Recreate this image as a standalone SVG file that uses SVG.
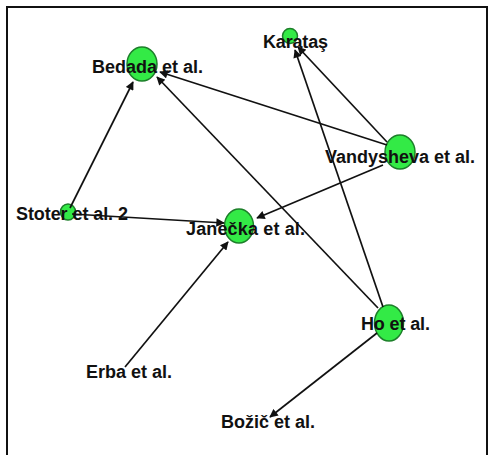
<svg xmlns="http://www.w3.org/2000/svg" width="491" height="455" viewBox="0 0 491 455">
<style>
.node{fill:#33ea46;stroke:#1d7f2a;stroke-width:1.5}
.lbl{font-family:"Liberation Sans",Arial,sans-serif;font-weight:bold;font-size:18px;fill:#111}
.edge{stroke:#111;stroke-width:1.7;fill:none;marker-end:url(#arr)}
</style>
<defs>
<marker id="arr" viewBox="0 0 10 10" refX="9" refY="5" markerWidth="5.5" markerHeight="5" orient="auto" markerUnits="strokeWidth">
<path d="M0,0 L10,5 L0,10 z" fill="#111"/>
</marker>
</defs>
<rect x="0" y="0" width="491" height="455" fill="#fff"/>
<path d="M7,460 L7,7 L487,7 L487,460" fill="none" stroke="#111" stroke-width="2"/>
<g id="nodes-circles">
<g id="n-bedada-c"><ellipse class="node" cx="142" cy="64" rx="15" ry="17"/></g>
<g id="n-karatas-c"><ellipse class="node" cx="290" cy="36" rx="7.5" ry="7.5"/></g>
<g id="n-vandysheva-c"><ellipse class="node" cx="400" cy="152" rx="15" ry="17"/></g>
<g id="n-stoter-c"><ellipse class="node" cx="68" cy="212" rx="7.5" ry="8"/></g>
<g id="n-janecka-c"><ellipse class="node" cx="239" cy="226" rx="14.5" ry="17"/></g>
<g id="n-ho-c"><ellipse class="node" cx="389" cy="323" rx="14.5" ry="18"/></g>
</g>
<g id="connectors">
<line class="edge" x1="70" y1="208" x2="133" y2="82"/>
<line class="edge" x1="387" y1="145" x2="160" y2="72"/>
<line class="edge" x1="378" y1="308" x2="157" y2="77"/>
<line class="edge" x1="387" y1="142" x2="298" y2="47"/>
<line class="edge" x1="383" y1="307" x2="295" y2="50"/>
<line class="edge" x1="383" y1="165" x2="257" y2="218"/>
<line class="edge" x1="72" y1="214" x2="224" y2="223"/>
<line class="edge" x1="125" y1="367" x2="228" y2="242"/>
<line class="edge" x1="377" y1="333" x2="270" y2="417"/>
</g>
<g id="n-bedada"><text class="lbl" x="92" y="73" textLength="111">Bedada et al.</text></g>
<g id="n-karatas"><text class="lbl" x="263" y="48" textLength="65">Karataş</text></g>
<g id="n-vandysheva"><text class="lbl" x="325" y="163" textLength="150">Vandysheva et al.</text></g>
<g id="n-stoter"><text class="lbl" x="16" y="220" textLength="112">Stoter et al. 2</text></g>
<g id="n-janecka"><text class="lbl" x="186" y="235" textLength="119">Janečka et al.</text></g>
<g id="n-ho"><text class="lbl" x="361" y="330" textLength="69">Ho et al.</text></g>
<g id="n-erba"><text class="lbl" x="86" y="378" textLength="86">Erba et al.</text></g>
<g id="n-bozic"><text class="lbl" x="221" y="428" textLength="94">Božič et al.</text></g>
</svg>
